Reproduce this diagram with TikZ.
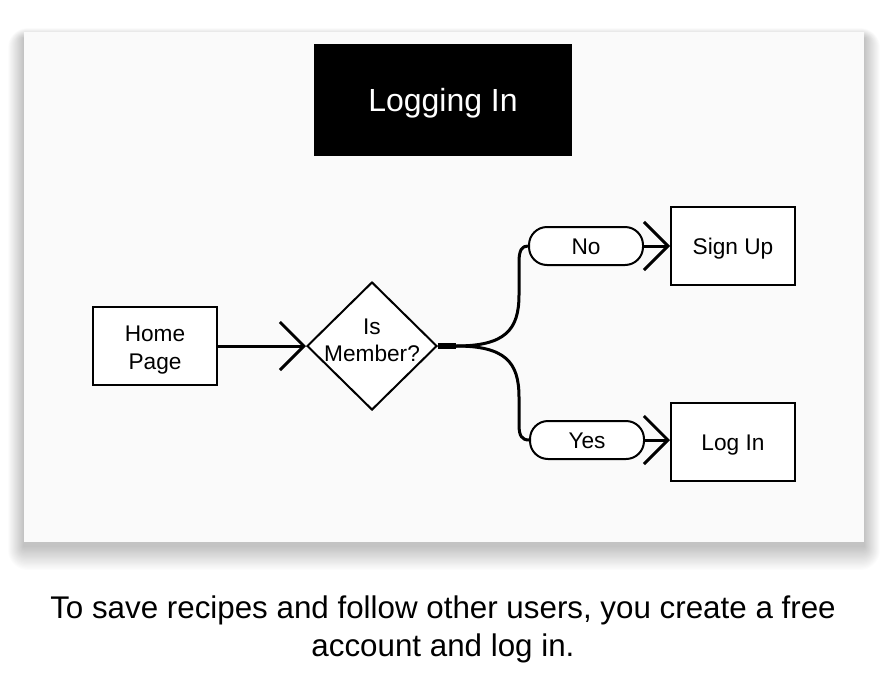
\documentclass[tikz,border=0pt]{standalone}
\usepackage{fontspec}
\setmainfont{Liberation Sans}
\usetikzlibrary{arrows.meta,shapes.geometric}
\begin{document}
\begin{tikzpicture}[x=0.75pt,y=-0.75pt,
  box/.style={draw=black,line width=1.5pt,fill=white,minimum width=93pt,minimum height=58.5pt,inner sep=0pt,align=center,font=\fontsize{17}{21}\selectfont},
  one/.style={text height=12.2pt,text depth=0pt},
  pill/.style={draw=black,line width=1.5pt,fill=white,rounded corners=13.5pt,minimum width=85.5pt,minimum height=28.5pt,inner sep=0pt,font=\fontsize{17}{21}\selectfont,one},
  conn/.style={line width=2.25pt,-{Straight Barb[length=18pt,width=36pt]}},
  wire/.style={line width=2.25pt}]
\useasboundingbox (0,0) rectangle (886,686);
\fill[white] (0,0) rectangle (886,686);
\foreach \i in {1,...,20}{
  \fill[black,opacity=0.011,rounded corners=\i*0.75pt] (24-\i*0.8,32-\i*0.5+6) rectangle (864+\i*0.8,542+\i*1.2+4);
}
\fill[black!2] (24,32) rectangle (864,542);
\node[fill=black,text=white,minimum width=193.5pt,minimum height=84pt,inner sep=0pt,font=\fontsize{24}{28}\selectfont,text height=17.2pt,text depth=0pt] (title) at (443,100) {Logging In};
\node[box] (home) at (155,346) {\rule{0pt}{18.4pt}Home\\Page};
\node[draw=black,line width=1.5pt,fill=white,diamond,minimum width=97.5pt,minimum height=96pt,inner sep=0pt] (dec) at (372,346) {};
\node[align=center,inner sep=0pt,font=\fontsize{17}{20}\selectfont] (dectext) at (372,340) {Is\\Member?};
\node[pill] (no) at (586,246) {No};
\node[pill] (yes) at (587,440) {Yes};
\node[box,one] (signup) at (733,246) {Sign Up};
\node[box,one] (login) at (733,442) {Log In};
\coordinate (split) at ([xshift=13.5pt]dec.east);
\draw[conn] (home.east) -- (dec.west);
\draw[line width=5pt] (dec.east) -- (split);
\draw[wire] (split) .. controls (505,346) and (519,330) .. (519,295) -- (519,262) .. controls (519,250) and (522,246) .. (no.west);
\draw[wire] (split) .. controls (505,346) and (519,362) .. (519,397) -- (519,425) .. controls (519,436) and (522,440) .. (yes.west);
\draw[conn] (no.east) -- (signup.west);
\draw[conn] (yes.east) -- (yes.east -| login.west);
\node[align=center,inner sep=0pt,font=\fontsize{23.5}{28.5}\selectfont] (cap) at (443,629) {To save recipes and follow other users, you create a free\\account and log in.};
\end{tikzpicture}
\end{document}
